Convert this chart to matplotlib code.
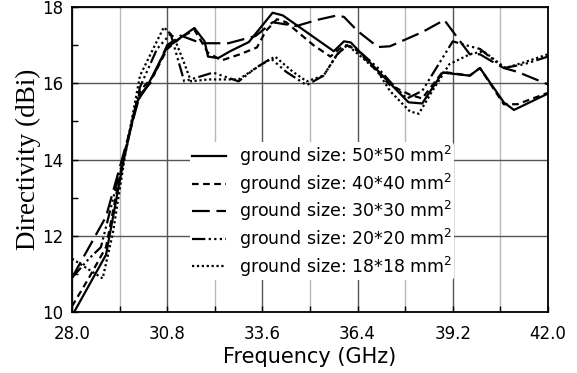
import numpy as np
import matplotlib
matplotlib.use("Agg")
import matplotlib.pyplot as plt
from matplotlib.ticker import MultipleLocator, FixedLocator

# ground size 50*50 (solid)
f50 = [28.0, 29.0, 29.5, 29.9, 30.2, 30.8, 31.2, 31.6, 31.9, 32.0, 32.3, 32.65, 33.2, 33.9, 34.2,
       35.7, 36.0, 36.2, 37.35, 37.9, 38.3, 38.9, 39.7, 40.0, 40.7, 41.0, 42.0]
d50 = [9.9, 11.5, 13.9, 15.5, 15.9, 16.95, 17.2, 17.45, 17.1, 16.7, 16.66, 16.84, 17.08, 17.85, 17.78,
       16.84, 17.1, 17.07, 16.0, 15.5, 15.47, 16.28, 16.2, 16.4, 15.5, 15.3, 15.73]

# ground size 40*40 (short dash)
f40 = [28.0, 28.5, 29.0, 29.5, 30.0, 30.4, 30.8, 31.2, 31.6, 32.0, 32.4, 32.94, 33.44, 33.7, 34.03,
       34.3, 35.1, 35.6, 36.0, 36.3, 37.35, 37.94, 38.3, 38.9, 39.7, 40.0, 40.7, 41.1, 42.0]
d40 = [10.15, 10.9, 11.7, 14.0, 15.8, 16.2, 16.9, 17.2, 17.4, 16.8, 16.6, 16.76, 16.94, 17.37, 17.68,
       17.6, 17.0, 16.7, 17.0, 16.95, 15.95, 15.7, 15.6, 16.3, 16.2, 16.4, 15.45, 15.45, 15.75]

# ground size 30*30 (long dash)
f30 = [28.0, 29.0, 29.5, 30.0, 30.3, 30.8, 31.2, 31.8, 32.6, 33.4, 33.9, 34.6, 35.2, 35.8, 36.0,
       36.4, 37.0, 37.35, 38.3, 38.95, 39.7, 40.0, 40.3, 40.7, 41.1, 42.0]
d30 = [10.9, 12.5, 14.1, 15.7, 16.0, 17.0, 17.25, 17.05, 17.05, 17.24, 17.6, 17.5, 17.66, 17.78, 17.74,
       17.37, 16.95, 16.97, 17.34, 17.66, 16.76, 16.76, 16.6, 16.4, 16.3, 15.97]

# ground size 20*20 (dash-dot-dot)
f20 = [28.0, 28.5, 28.85, 29.5, 30.0, 30.5, 30.9, 31.3, 32.15, 32.9, 33.4, 33.85, 34.3, 34.9, 35.4,
       35.8, 36.1, 36.5, 37.0, 37.4, 37.85, 38.3, 39.2, 39.7, 40.0, 40.7, 41.3, 42.0]
d20 = [10.9, 11.4, 11.7, 14.0, 15.9, 16.9, 17.3, 16.05, 16.28, 16.05, 16.4, 16.65, 16.3, 15.95, 16.2,
       16.76, 17.0, 16.8, 16.4, 16.0, 15.6, 15.8, 17.1, 16.97, 16.9, 16.4, 16.5, 16.7]

# ground size 18*18 (dotted)
f18 = [28.0, 28.9, 29.2, 29.55, 30.0, 30.7, 31.0, 31.27, 31.5, 32.0, 32.9, 33.5, 33.97, 34.5, 34.9,
       35.4, 35.8, 36.1, 36.5, 37.0, 37.35, 37.94, 38.2, 38.6, 39.1, 39.7, 40.1, 40.75, 41.3, 42.0]
d18 = [11.4, 10.88, 12.06, 14.05, 16.2, 17.47, 17.2, 16.6, 16.05, 16.1, 16.1, 16.45, 16.7, 16.3, 16.05,
       16.2, 16.76, 17.0, 16.7, 16.3, 15.8, 15.26, 15.2, 15.8, 16.5, 16.76, 16.84, 16.4, 16.55, 16.76]

labels = ["ground size: 50*50 mm$^2$", "ground size: 40*40 mm$^2$", "ground size: 30*30 mm$^2$",
          "ground size: 20*20 mm$^2$", "ground size: 18*18 mm$^2$"]

fig = plt.figure(figsize=(5.77, 3.73), dpi=100)
ax = fig.add_axes([0.1248, 0.1635, 0.8249, 0.8177])

lw = 1.6
ax.plot(f50, d50, color="black", lw=lw, ls="-", label=labels[0])
ax.plot(f40, d40, color="black", lw=lw, ls=(0, (3, 2)), label=labels[1])
ax.plot(f30, d30, color="black", lw=lw, ls=(0, (8, 3)), label=labels[2])
ax.plot(f20, d20, color="black", lw=lw, ls=(0, (6, 1.5, 1, 1.5, 1, 1.5, 1, 1.5)), label=labels[3])
ax.plot(f18, d18, color="black", lw=lw, ls=(0, (1, 1.2)), label=labels[4])

ax.set_xlim(28.0, 42.0)
ax.set_ylim(10, 18)

ax.xaxis.set_major_locator(FixedLocator([28.0, 30.8, 33.6, 36.4, 39.2, 42.0]))
ax.xaxis.set_minor_locator(FixedLocator([29.4, 32.2, 35.0, 37.8, 40.6]))
ax.set_xticklabels(["28.0", "30.8", "33.6", "36.4", "39.2", "42.0"])
ax.yaxis.set_major_locator(MultipleLocator(2))
ax.yaxis.set_minor_locator(MultipleLocator(1))

ax.tick_params(which="both", direction="in", labelsize=12, width=1)
ax.tick_params(which="major", length=4)
ax.tick_params(which="minor", length=4)
ax.tick_params(axis="x", pad=9)
ax.tick_params(axis="y", pad=6)

# grid: darker at labelled ticks, light at in-between ones
ax.grid(True, which="major", color="#555555", lw=1.0)
ax.grid(True, which="minor", axis="x", color="#b8b8b8", lw=1.0)
ax.set_axisbelow(True)

for s in ax.spines.values():
    s.set_linewidth(1.3)

ax.set_xlabel("Frequency (GHz)", fontsize=15, labelpad=3)
ax.set_ylabel("Directivity (dBi)", fontsize=19.5, family="Liberation Serif", labelpad=1)

leg = ax.legend(loc="center", bbox_to_anchor=(0.525, 0.33), fontsize=12.5, frameon=True,
                handlelength=2.0, labelspacing=0.2, handletextpad=0.7, borderpad=0.1)
leg.get_frame().set_edgecolor("none")
leg.get_frame().set_facecolor("white")
leg.get_frame().set_alpha(1.0)

fig.savefig("out.png", dpi=100)
